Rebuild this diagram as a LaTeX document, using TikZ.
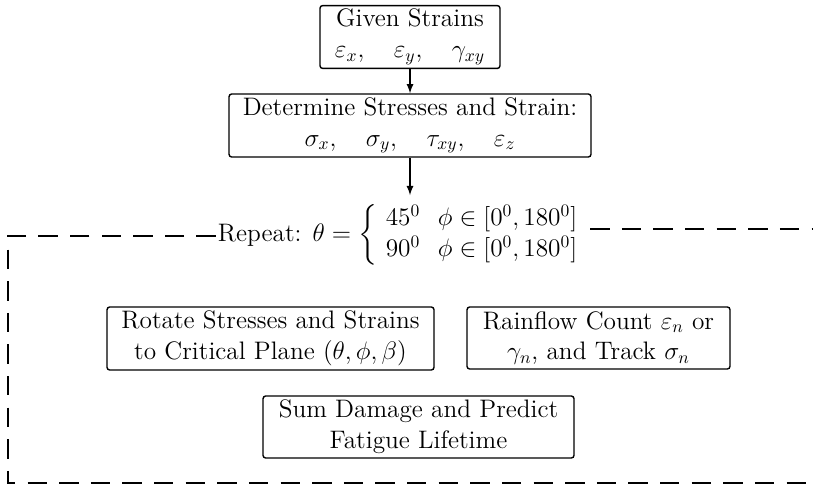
\documentclass[tikz,border=0pt]{standalone}
\usepackage{amsmath,amssymb}
\usepackage{tikz}
\usetikzlibrary{positioning}

\tikzset{
  blk/.style={draw,line width=0.8pt,rounded corners=1.5pt,align=center,
    inner xsep=4pt,inner ysep=2pt,font=\fontsize{14.4}{17.5}\selectfont},
  loopline/.style={line width=0.7pt,dash pattern=on 11pt off 7pt}
}

\begin{document}
\begin{tikzpicture}[x=0.02cm,y=-0.02cm,>=latex]
        \useasboundingbox (0,0) rectangle (813,487);
        \node[blk,minimum width=3.6cm,minimum height=1.24cm] (given) at (410,37)
          {Given Strains\\ $\varepsilon_x,\quad \varepsilon_y,\quad \gamma_{xy}$};
        \node[blk,minimum width=7.24cm,minimum height=1.26cm] (det) at (410,125.5)
          {Determine Stresses and Strain:\\ $\sigma_x,\quad \sigma_y,\quad \tau_{xy},\quad \varepsilon_z$};
        \node[font=\fontsize{14.4}{17.5}\selectfont,inner xsep=1pt,inner ysep=5pt] (rep) at (403,235)
          {Repeat: $\theta=\left\{\begin{array}{ll}45^0 & \phi\in[0^0,180^0]\\ 90^0 & \phi\in[0^0,180^0]\end{array}\right.$};
        \node[blk,minimum width=6.54cm,minimum height=1.26cm] (rot) at (270.5,338.5)
          {Rotate Stresses and Strains\\ to Critical Plane $(\theta,\phi,\beta)$};
        \node[blk,minimum width=5.26cm,minimum height=1.24cm] (rain) at (598.5,338)
          {Rainflow Count $\varepsilon_n$ or\\ $\gamma_n$, and Track $\sigma_n$};
        \node[blk,minimum width=6.22cm,minimum height=1.24cm] (sum) at (418.5,427)
          {Sum Damage and Predict\\ Fatigue Lifetime};
        % loop frame
        \coordinate (tl) at (8,236);
        \coordinate (bl) at (8,483);
        \coordinate (br) at (813,483);
        \coordinate (tr) at (813,229);
        \draw[->,line width=0.8pt] (given) -- (det);
        \draw[->,line width=0.8pt] (det) -- (det |- rep.north);
        \draw[loopline] (rep.west |- tl) -- (tl) -- (bl) -- (br);
        \draw[loopline] (rep.east |- tr) -- (tr);
      \end{tikzpicture}
\end{document}
